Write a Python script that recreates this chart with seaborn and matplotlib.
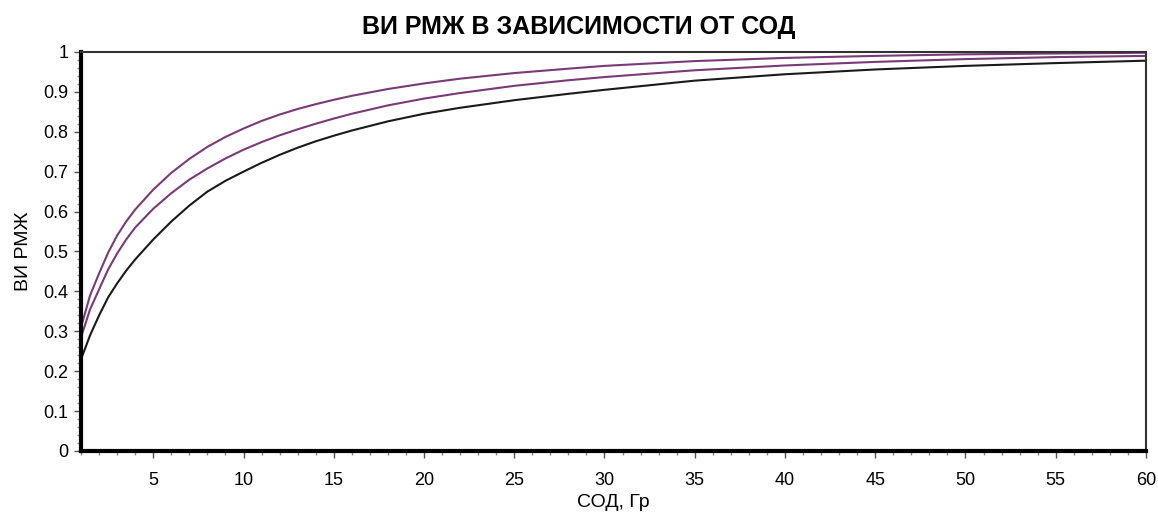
import pandas as pd
import matplotlib
matplotlib.use("Agg")
import matplotlib.pyplot as plt
from matplotlib.ticker import MultipleLocator, FuncFormatter
import seaborn as sns

sns.set_style("ticks")
plt.rcParams['font.family'] = ['Liberation Sans', 'DejaVu Sans']
plt.rcParams['text.color'] = 'black'
plt.rcParams['axes.labelcolor'] = 'black'
plt.rcParams['xtick.color'] = 'black'
plt.rcParams['ytick.color'] = 'black'

# dose points (Gy) and the three curves
dose = [1, 1.5, 2, 2.5, 3, 3.5, 4, 5, 6, 7, 8, 9, 10, 11, 12, 13, 14, 15, 16, 18,
        20, 22, 25, 28, 30, 35, 40, 45, 50, 55, 60]
lower = [0.23, 0.29, 0.34, 0.385, 0.42, 0.452, 0.48, 0.53, 0.575, 0.615, 0.65, 0.677,
         0.70, 0.722, 0.742, 0.76, 0.776, 0.79, 0.803, 0.826, 0.845, 0.86, 0.879,
         0.895, 0.905, 0.928, 0.944, 0.956, 0.965, 0.972, 0.978]
middle = [0.285, 0.355, 0.405, 0.455, 0.495, 0.53, 0.56, 0.607, 0.646, 0.68, 0.708,
          0.733, 0.755, 0.774, 0.791, 0.806, 0.82, 0.833, 0.845, 0.866, 0.883, 0.897,
          0.915, 0.929, 0.937, 0.954, 0.966, 0.975, 0.982, 0.987, 0.99]
upper = [0.31, 0.39, 0.445, 0.497, 0.54, 0.575, 0.605, 0.655, 0.697, 0.732, 0.762,
         0.787, 0.808, 0.827, 0.843, 0.857, 0.869, 0.88, 0.89, 0.907, 0.921, 0.933,
         0.947, 0.958, 0.965, 0.977, 0.985, 0.99, 0.994, 0.996, 0.998]

df = pd.DataFrame({"dose": dose * 3,
                   "value": lower + middle + upper,
                   "curve": ["lower"] * len(dose) + ["middle"] * len(dose) + ["upper"] * len(dose)})

fig = plt.figure(figsize=(11.58, 5.14), dpi=100)
ax = fig.add_axes([0.070, 0.1226, 0.9196, 0.7764])

sns.lineplot(data=df, x="dose", y="value", hue="curve",
             palette={"lower": "#1a1a1a", "middle": "#7a3a78", "upper": "#7a3a78"},
             linewidth=1.5, legend=False, ax=ax)

ax.set_xlim(1, 60)
ax.set_ylim(0, 1)
ax.xaxis.set_major_locator(MultipleLocator(5))
ax.xaxis.set_minor_locator(MultipleLocator(1))
ax.yaxis.set_major_locator(MultipleLocator(0.1))
ax.yaxis.set_minor_locator(MultipleLocator(0.02))
ax.xaxis.set_major_formatter(FuncFormatter(lambda v, p: "" if v < 5 else f"{v:g}"))
ax.yaxis.set_major_formatter(FuncFormatter(lambda v, p: f"{round(v, 1):g}"))

ax.tick_params(axis="both", which="major", labelsize=13, length=5, width=1,
               color="#555555")
ax.tick_params(axis="x", which="major", pad=10)
ax.tick_params(axis="y", which="major", pad=4)
ax.tick_params(axis="both", which="minor", length=3, width=1, color="#888888")

for side in ["left", "bottom"]:
    ax.spines[side].set_linewidth(3)
    ax.spines[side].set_color("black")
for side in ["top", "right"]:
    ax.spines[side].set_visible(True)
    ax.spines[side].set_linewidth(1.5)
    ax.spines[side].set_color("#333333")

ax.set_xlabel("СОД, Гр", fontsize=14, labelpad=4)
ax.set_ylabel("ВИ РМЖ", fontsize=14, labelpad=8)
fig.text(0.5, 0.947, "ВИ РМЖ В ЗАВИСИМОСТИ ОТ СОД", ha="center", va="center",
         fontsize=18, fontweight="bold")

fig.savefig("out.png", dpi=100)
